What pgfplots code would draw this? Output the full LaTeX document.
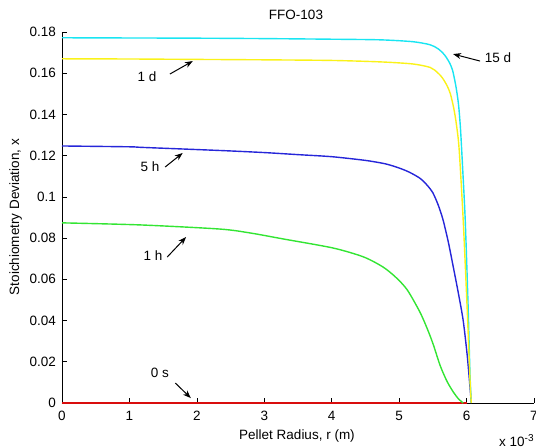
\documentclass[border=0pt]{standalone}
\usepackage{pgfplots}
\pgfplotsset{compat=1.18}
\usetikzlibrary{arrows.meta}
\usepackage{fontspec}
\setmainfont{Liberation Sans}
\definecolor{ccyan}{rgb}{0.1,0.9,0.95}
\definecolor{cyell}{rgb}{0.98,0.95,0.1}
\definecolor{cblue}{rgb}{0.15,0.15,0.85}
\definecolor{cgreen}{rgb}{0.2,0.9,0.2}
\definecolor{cred}{rgb}{0.85,0.05,0.05}
\begin{document}
\begin{tikzpicture}[font=\fontsize{13.5bp}{16bp}\selectfont]
\begin{axis}[
  at={(62bp,45bp)}, anchor=south west,
  scale only axis, width=472bp, height=371bp,
  xmin=0, xmax=7, ymin=0, ymax=0.18,
  axis lines=left, axis line style={-, line width=0.7bp},
  clip=false,
  tick align=inside, major tick length=4.5bp,
  tick style={line width=0.7bp, black},
  xtick={0,1,2,3,4,5,6,7},
  xticklabels={0,1,2,3,4,5,6,7},
  ytick={0,0.02,0.04,0.06,0.08,0.1,0.12,0.14,0.16,0.18},
  yticklabels={0,0.02,0.04,0.06,0.08,0.1,0.12,0.14,0.16,0.18},
  xticklabel style={yshift=-5bp, font=\fontsize{13.5bp}{16bp}\selectfont},
  yticklabel style={xshift=-2.5bp, font=\fontsize{13.5bp}{16bp}\selectfont},
  every axis plot/.append style={line width=1.4bp, smooth, tension=0.45},
]
% 0 s
\addplot[cred, line width=1.6bp, sharp plot] coordinates {(0,0) (6.0,0)};
% 1 h
\addplot[cgreen] coordinates {
(0,0.0874) (1.16,0.0864) (2.34,0.0844) (2.79,0.0825) (3.28,0.0796)
(4.02,0.0752) (4.47,0.0709) (4.76,0.0660) (4.95,0.0610) (5.12,0.0549) (5.31,0.0440)
(5.43,0.0350) (5.51,0.0280) (5.61,0.0180) (5.71,0.0105) (5.80,0.0055) (5.88,0.0020) (5.95,0)};
% 5 h
\addplot[cblue] coordinates {
(0,0.1247) (1,0.1243) (1.2,0.1240) (2.35,0.1225) (3,0.1215) (3.5,0.1205)
(4,0.1195) (4.5,0.1177) (4.8,0.1160) (5.0,0.1140) (5.15,0.1120) (5.31,0.1090)
(5.42,0.1055) (5.5,0.1020) (5.58,0.0960) (5.65,0.0890) (5.73,0.0780) (5.80,0.0665)
(5.88,0.0530) (5.95,0.0400) (6.01,0.0230) (6.05,0.0080) (6.07,0)};
% 15 d
\addplot[cyell, forget plot, draw=none] coordinates {(0,0)};
\addplot[ccyan] coordinates {
(0,0.1772) (1,0.1771) (2,0.1770) (3,0.1768) (4,0.1765) (4.72,0.1762)
(5.2,0.1753) (5.46,0.1738) (5.58,0.1718) (5.67,0.1690) (5.74,0.1655) (5.79,0.1617) (5.84,0.1540)
(5.88,0.1450) (5.91,0.1330) (5.945,0.1120) (5.98,0.0888) (6.02,0.0500) (6.05,0.0150) (6.07,0)};
% 1 d
\addplot[cyell] coordinates {
(0,0.1670) (1,0.1669) (2,0.1667) (3,0.1665) (4,0.1662) (4.72,0.1655)
(5.2,0.1645) (5.46,0.1628) (5.57,0.1603) (5.64,0.1578) (5.71,0.1540) (5.76,0.1500)
(5.81,0.1430) (5.85,0.1350) (5.89,0.1230) (5.95,0.0888) (6.01,0.0450) (6.05,0.0120) (6.07,0)};
% annotations
\tikzset{ann/.style={-{Stealth[length=8bp,width=6bp]}, line width=1bp, black}}
\node at (axis cs:6.466,0.1674) {15 d};
\draw[ann] (axis cs:6.20,0.1659) -- (axis cs:5.80,0.1693);
\node at (axis cs:1.26,0.1581) {1 d};
\draw[ann] (axis cs:1.60,0.1596) -- (axis cs:1.94,0.1659);
\node at (axis cs:1.305,0.1149) {5 h};
\draw[ann] (axis cs:1.53,0.1145) -- (axis cs:1.79,0.1213);
\node at (axis cs:1.35,0.0713) {1 h};
\draw[ann] (axis cs:1.56,0.0708) -- (axis cs:1.84,0.0805);
\node at (axis cs:1.45,0.0146) {0 s};
\draw[ann] (axis cs:1.68,0.0097) -- (axis cs:1.91,0.0024);
\end{axis}
\node[anchor=base] at (296bp,428bp) {FFO-103};
\node[anchor=base] at (297bp,9bp) {Pellet Radius, r (m)};
\node[anchor=base, rotate=90] at (19bp,231bp) {Stoichiometry Deviation, x};
\node[anchor=base west, inner sep=0pt] at (499bp,1.5bp) {x 10\raisebox{5bp}{\fontsize{10bp}{10bp}\selectfont -3}};
\pgfresetboundingbox
\path[use as bounding box] (0,0) rectangle (536bp,448bp);
\end{tikzpicture}
\end{document}
